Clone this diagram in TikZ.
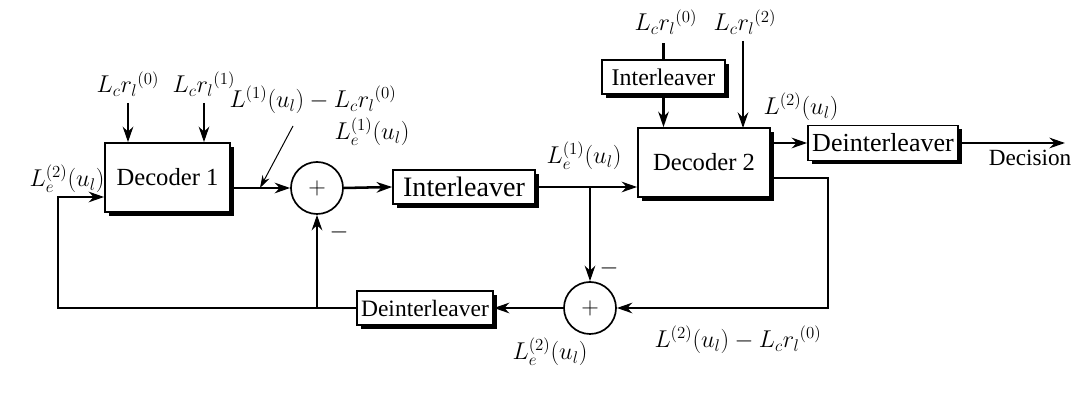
\documentclass[tikz,border=0pt]{standalone}
\usepackage{fontspec}
\setmainfont{Liberation Serif}
\usetikzlibrary{arrows.meta,shadows}
\begin{document}
\begin{tikzpicture}[x=0.025cm,y=-0.025cm,
  box/.style={draw=black, line width=1.2pt, fill=white, inner sep=0pt,
    drop shadow={shadow xshift=2.5pt, shadow yshift=-2.5pt, fill=black, opacity=1}},
  sumnode/.style={circle, draw=black, line width=1.2pt, minimum size=1.3cm, inner sep=0pt, fill=white,
    font=\fontsize{16}{18}\selectfont},
  conn/.style={line width=1.8pt, -{Stealth[length=11pt,width=7.5pt]}},
  wire/.style={line width=1.8pt},
  thin/.style={line width=0.7pt, -{Stealth[length=9pt,width=5.5pt]}},
  lab/.style={font=\fontsize{18}{20}\selectfont, inner sep=0pt},
]
\useasboundingbox (0,0) rectangle (1081,398);
\fill[white] (0,0) rectangle (1081,398);

% blocks
\node[box, minimum width=3.125cm, minimum height=1.725cm, font=\fontsize{17.5}{20}\selectfont] (dec1) at (167.5,177.5) {Decoder 1};
\node[box, minimum width=3.3cm, minimum height=1.725cm, font=\fontsize{17.5}{20}\selectfont] (dec2) at (704,162.5) {Decoder 2};
\node[box, minimum width=3.55cm, minimum height=0.85cm, font=\fontsize{20}{22}\selectfont] (il1) at (464,187) {Interleaver};
\node[box, minimum width=3.075cm, minimum height=0.85cm, font=\fontsize{17}{20}\selectfont] (il2) at (663.5,77) {Interleaver};
\node[box, minimum width=3.75cm, minimum height=0.875cm, font=\fontsize{18.5}{21}\selectfont] (dil1) at (883,143) {Deinterleaver};
\node[box, minimum width=3.4cm, minimum height=0.85cm, font=\fontsize{16.7}{20}\selectfont] (dil2) at (425,308) {Deinterleaver};
\node[sumnode] (sum1) at (317,188) {$+$};
\node[sumnode] (sum2) at (590,308) {$+$};

% labels
\node[lab] (r0a) at (128,84) {$L_c r_l{}^{(0)}$};
\node[lab] (r1) at (204,84) {$L_c r_l{}^{(1)}$};
\node[lab] (r0b) at (666,22) {$L_c r_l{}^{(0)}$};
\node[lab] (r2) at (745,22) {$L_c r_l{}^{(2)}$};
\node[lab] (le2a) at (67,179) {$L_e^{(2)}(u_l)$};
\node[lab] (ann1) at (313,100) {$L^{(1)}(u_l)-L_c r_l{}^{(0)}$};
\node[lab] (le1a) at (372,132) {$L_e^{(1)}(u_l)$};
\node[lab] (le1b) at (584,156) {$L_e^{(1)}(u_l)$};
\node[lab] (l2) at (801,107) {$L^{(2)}(u_l)$};
\node[lab] (le2b) at (550,352) {$L_e^{(2)}(u_l)$};
\node[lab] (ann2) at (738,340) {$L^{(2)}(u_l)-L_c r_l{}^{(0)}$};
\node[font=\fontsize{16.5}{18}\selectfont, inner sep=0pt] (dec) at (1030,158) {Decision};
\node[lab] (m1) at (339,232) {$-$};
\node[lab] (m2) at (609,268) {$-$};

% coordinates
\coordinate (c1) at (58,308);
\coordinate (c2) at (58,197);
\coordinate (b1) at (317,308);
\coordinate (br) at (590,187);
\coordinate (d2a) at (828,178);
\coordinate (out) at (1065,143);
\coordinate (t1) at (293,126);
\coordinate (t2) at (260,188);

% inputs
\draw[conn] (r0a.south) ++(0,6) -- (r0a.south |- dec1.north);
\draw[conn] (r1.south) ++(0,6) -- (r1.south |- dec1.north);
\draw[wire] (il2.north) ++(0,-16) -- (il2.north);
\draw[conn] (il2.south) -- (il2.south |- dec2.north);
\draw[conn] (r2.south) ++(-2,6) -- (743,128);

% forward path
\draw[conn] (dec1.east |- sum1) -- (sum1.west);
\draw[conn] (sum1.east) -- (il1.west);
\draw[conn] (il1.east) -- (dec2.west |- il1);
\draw[conn] (dec2.east |- dil1) -- (dil1.west);
\draw[conn] (dil1.east) -- (out);

% feedback
\draw[conn] (br) -- (sum2.north);
\draw[conn] (dec2.east |- d2a) -- (d2a) -- (d2a |- sum2) -- (sum2.east);
\draw[conn] (sum2.west) -- (dil2.east);
\draw[conn] (dil2.west) -- (c1) -- (c2) -- (c2 -| dec1.west);
\draw[conn] (b1) -- (sum1.south);

% annotation arrow
\draw[thin] (t1) -- (t2);
\end{tikzpicture}
\end{document}
